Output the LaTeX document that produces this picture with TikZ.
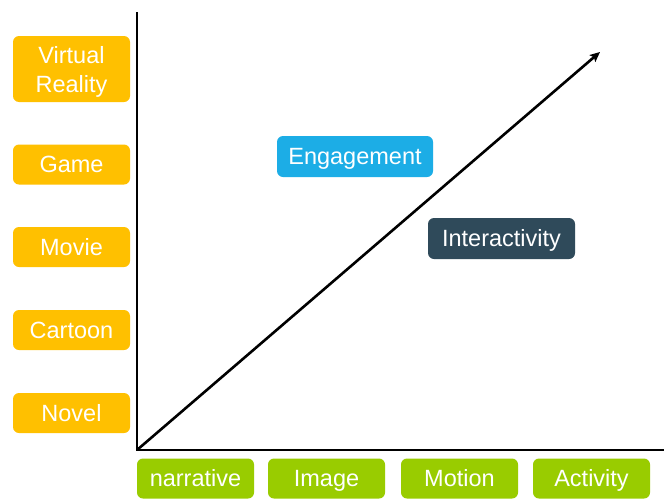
\documentclass[tikz,border=0pt]{standalone}
\usepackage{fontspec}
\setmainfont{Liberation Sans}
\usetikzlibrary{arrows.meta}
\definecolor{mediagold}{HTML}{FFC000}
\definecolor{formgreen}{HTML}{99CC00}
\definecolor{engblue}{HTML}{1CADE6}
\definecolor{intslate}{HTML}{2F4A5A}
\begin{document}
\begin{tikzpicture}[x=1pt,y=-1pt,
  tag/.style={rounded corners=6pt, text=white, inner sep=0pt, align=center,
    font=\fontsize{23.5}{29}\selectfont, text height=17pt, text depth=1pt},
  media/.style={tag, fill=mediagold, minimum width=117pt, minimum height=40pt},
  form/.style={tag, fill=formgreen, minimum width=117pt, minimum height=40pt},
  axis/.style={line width=2.6pt, line cap=butt}
]
\useasboundingbox (0,0) rectangle (664,498);
\fill[white] (0,0) rectangle (664,498);

% media scale on the left
\node[media, minimum height=66pt, text height=46pt, text depth=0pt] (vr) at (71.5,69) {Virtual\\Reality};
\node[media] (game) at (71.5,164.5) {Game};
\node[media] (movie) at (71.5,247) {Movie};
\node[media] (cartoon) at (71.5,330) {Cartoon};
\node[media] (novel) at (71.5,413) {Novel};

% form scale along the bottom
\node[form] (narr) at (195.5,478.5) {narrative};
\node[form] (image) at (326.5,478.5) {Image};
\node[form] (motion) at (459.5,478.5) {Motion};
\node[form] (activ) at (591.5,478.5) {Activity};

% axes
\coordinate (O) at (137,450);
\coordinate (ytop) at (137,12);
\coordinate (xend) at (664,450);
\coordinate (tip) at (600,52);
\draw[axis] (ytop) -- (O) -- (xend);
\draw[line width=2.6pt, -{Stealth[length=10pt,width=9pt,inset=2pt]}] (O) -- (tip);

% region labels
\node[tag, fill=engblue, minimum width=156pt, minimum height=41pt] (eng) at (355,156.5) {Engagement};
\node[tag, fill=intslate, minimum width=147pt, minimum height=41pt] (inter) at (501.5,238.5) {Interactivity};
\end{tikzpicture}
\end{document}
